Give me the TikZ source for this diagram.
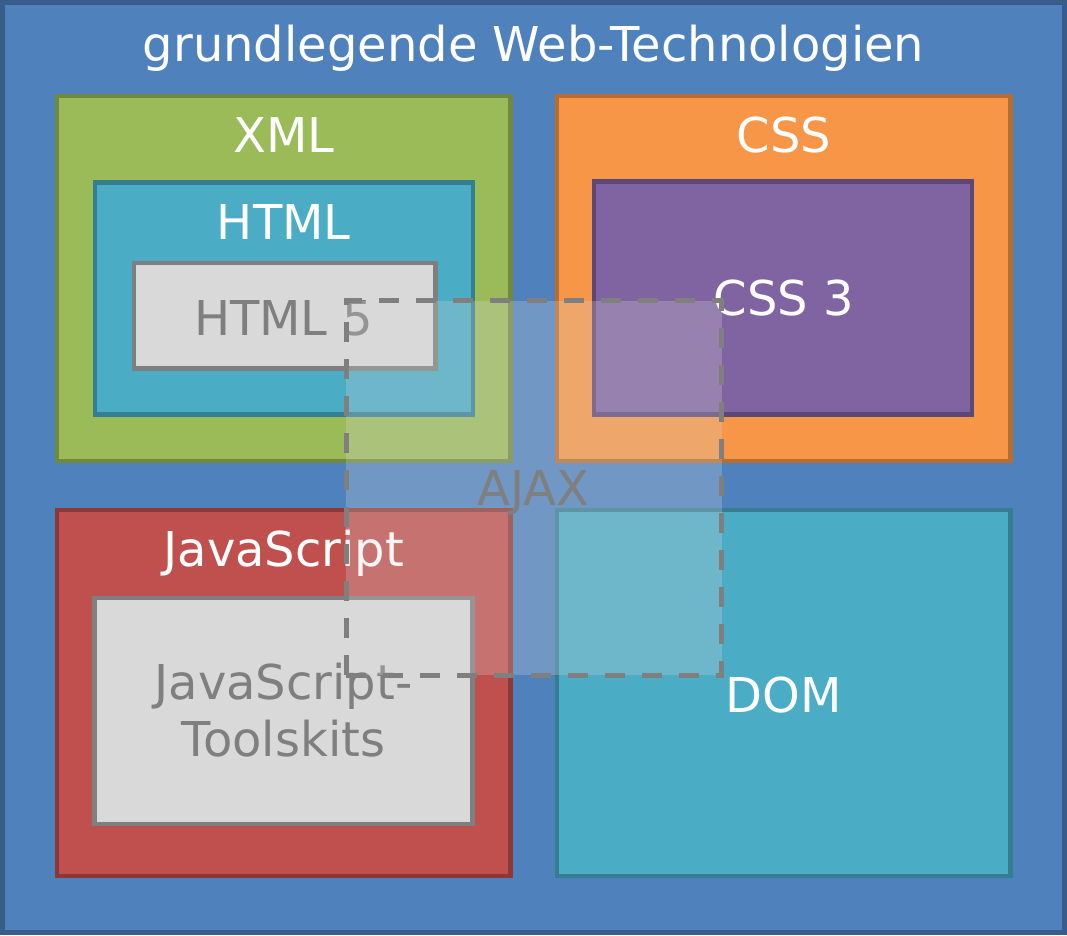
\documentclass[tikz,border=0pt]{standalone}
\usepackage{fontspec}
\setmainfont{DejaVu Sans}
\definecolor{outerfill}{HTML}{4F81BD}
\definecolor{outerline}{HTML}{385D8A}
\definecolor{greenfill}{HTML}{9BBB59}
\definecolor{greenline}{HTML}{71893F}
\definecolor{aquafill}{HTML}{4BACC6}
\definecolor{aqualine}{HTML}{357D91}
\definecolor{greyfill}{HTML}{D9D9D9}
\definecolor{greyline}{HTML}{7F7F7F}
\definecolor{orangefill}{HTML}{F79646}
\definecolor{orangeline}{HTML}{B66D31}
\definecolor{purplefill}{HTML}{8064A2}
\definecolor{purpleline}{HTML}{5C4776}
\definecolor{redfill}{HTML}{C0504D}
\definecolor{redline}{HTML}{8C3836}
\tikzset{
  techbox/.style={rectangle, inner sep=0pt, outer sep=0pt, line width=4.5pt},
  lbl/.style={inner sep=0pt, anchor=base, font=\fontsize{48}{57}\selectfont},
  whitelbl/.style={lbl, text=white},
  greylbl/.style={lbl, text=greyline},
  ajaxbox/.style={rectangle, inner sep=0pt, outer sep=0pt, line width=5pt, draw=greyline,
    fill=greyfill, fill opacity=0.25, dash pattern=on 20pt off 17pt},
}
\begin{document}
\begin{tikzpicture}[x=1pt,y=-1pt]
\useasboundingbox (0,0) rectangle (1067,935);
% outer frame
\node[techbox, line width=5pt, draw=outerline, fill=outerfill, minimum width=1062pt, minimum height=930pt] (outer) at (533.5,467.5) {};
\node[whitelbl] (titlelbl) at (533.5,61) {grundlegende Web-Technologien};
% XML / HTML / HTML 5
\node[techbox, draw=greenline, fill=greenfill, minimum width=453.5pt, minimum height=365pt] (xml) at (283.75,278.5) {};
\node[techbox, draw=aqualine, fill=aquafill, minimum width=378pt, minimum height=232pt] (html) at (284,298.5) {};
\node[techbox, draw=greyline, fill=greyfill, minimum width=301.5pt, minimum height=105.5pt] (html5) at (284.75,315.75) {};
\node[whitelbl] (xmllbl) at (283.75,152) {XML};
\node[whitelbl] (htmllbl) at (283.75,239) {HTML};
\node[greylbl] (html5lbl) at (283.75,335) {HTML 5};
% CSS / CSS 3
\node[techbox, draw=orangeline, fill=orangefill, minimum width=453.5pt, minimum height=365pt] (css) at (783.75,278.5) {};
\node[techbox, draw=purpleline, fill=purplefill, minimum width=378pt, minimum height=233pt] (css3) at (783,298) {};
\node[whitelbl] (csslbl) at (783.75,152) {CSS};
\node[whitelbl] (css3lbl) at (783.75,315) {CSS 3};
% JavaScript
\node[techbox, draw=redline, fill=redfill, minimum width=453.5pt, minimum height=366pt] (js) at (283.75,693) {};
\node[techbox, draw=greyline, fill=greyfill, minimum width=378pt, minimum height=226pt] (jstk) at (283.5,711) {};
\node[whitelbl] (jslbl) at (283.75,566.5) {JavaScript};
\node[greylbl, anchor=center, align=center] (jstklbl) at (283.5,710.5) {JavaScript-\\Toolskits};
% DOM
\node[techbox, draw=aqualine, fill=aquafill, minimum width=453.5pt, minimum height=366pt] (dom) at (783.75,693) {};
\node[whitelbl] (domlbl) at (783.75,712) {DOM};
% AJAX overlay
\node[ajaxbox, minimum width=375.5pt, minimum height=374.5pt] (ajax) at (533.75,487.75) {};
\node[greylbl] (ajaxlbl) at (533.75,505) {AJAX};
\end{tikzpicture}
\end{document}
